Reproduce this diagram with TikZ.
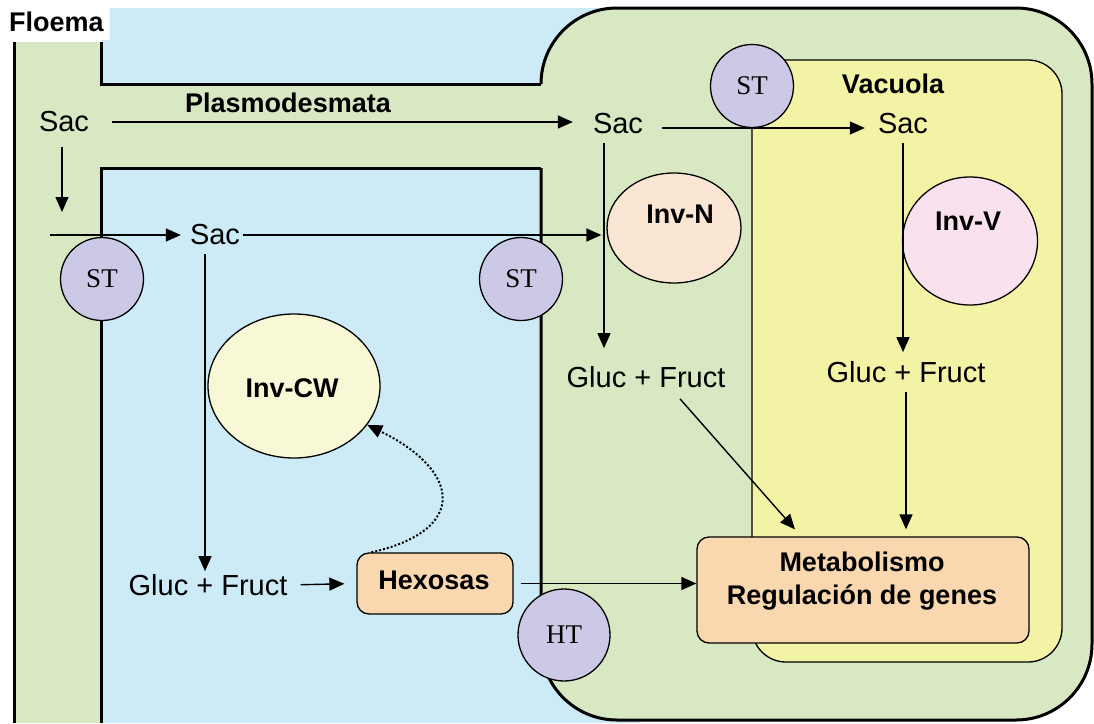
\documentclass[tikz,border=0pt]{standalone}
\usepackage{fontspec}
\setmainfont{Liberation Sans}
\newfontfamily\stfont{Liberation Serif}
\usetikzlibrary{arrows.meta,shapes.geometric}
\definecolor{bg}{HTML}{CDEBF6}
\definecolor{cellc}{HTML}{D7E8C2}
\definecolor{vac}{HTML}{F3F3A6}
\definecolor{stc}{HTML}{CCC9E6}
\definecolor{invn}{HTML}{FBE6D4}
\definecolor{invv}{HTML}{F9E2EE}
\definecolor{invcw}{HTML}{F8F8D6}
\definecolor{boxc}{HTML}{FAD8AF}
\tikzset{
  wall/.style={line width=3pt},
  thinb/.style={line width=1.3pt},
  arr/.style={-{Triangle[length=15pt,width=13pt]}, line width=1.4pt},
  txt/.style={font=\fontsize{29}{34}\selectfont, inner sep=1pt},
  btxt/.style={font=\fontsize{27}{32}\selectfont\bfseries, inner sep=1pt},
  stnode/.style={circle, draw, thinb, fill=stc, minimum size=83pt, inner sep=0pt, font=\stfont\fontsize{27}{30}\selectfont},
  enz/.style={ellipse, draw, thinb, inner sep=0pt},
  boxn/.style={rectangle, rounded corners=12pt, draw, thinb, fill=boxc, inner sep=0pt},
}
\begin{document}
\begin{tikzpicture}[x=1pt,y=-1pt]
\useasboundingbox (0,0) rectangle (1094,723);
\fill[white] (0,0) rectangle (1094,723);
% backgrounds
\fill[bg] (101,8) rectangle (640,723);
\fill[white] (0,0) rectangle (110,40);
\fill[cellc] (14,42) rectangle (101,723);
\fill[cellc] (101,84) rectangle (600,168);
\fill[cellc, rounded corners=76pt] (541,8) rectangle (1092,720);
% walls
\draw[wall] (14,42) -- (14,723);
\draw[wall] (101,42) -- (101,84) -- (541,84);
\draw[wall, rounded corners=76pt] (541,84) -- (541,8) -- (1092,8) -- (1092,720) -- (541,720) -- (541,168);
\draw[wall] (541,168) -- (101,168) -- (101,723);
% vacuole
\draw[thinb, fill=vac, rounded corners=34pt] (752,60) rectangle (1062,662);
% labels
\node[btxt, anchor=west] (floema) at (8,22) {Floema};
\node[btxt] (plasmo) at (288,103) {Plasmodesmata};
\node[btxt] (vacuola) at (893,84) {Vacuola};
% enzymes
\node[enz, fill=invn, minimum width=134pt, minimum height=110pt] (invN) at (674,228) {};
\node[btxt] (invNt) at (680,214) {Inv-N};
\node[enz, fill=invv, minimum width=135pt, minimum height=128pt] (invV) at (970,241) {};
\node[btxt] (invVt) at (968,221) {Inv-V};
\node[enz, fill=invcw, minimum width=172pt, minimum height=144pt] (invCW) at (294,386) {};
\node[btxt] (invCWt) at (292,388) {Inv-CW};
% transporters
\node[stnode] (st1) at (102,279) {ST};
\node[stnode] (st2) at (521,279) {ST};
\node[stnode, minimum size=92pt] (ht) at (564,635) {HT};
% sugars
\node[txt] (sacP) at (64,122) {Sac};
\node[txt] (sac1) at (215,235) {Sac};
\node[txt] (sac2) at (618,124) {Sac};
\node[txt] (sac3) at (903,124) {Sac};
\node[txt] (gcw) at (208,585) {Gluc + Fruct};
\node[txt] (gm) at (646,377) {Gluc + Fruct};
\node[txt] (gv) at (906,372) {Gluc + Fruct};
% boxes
\node[boxn, minimum width=156pt, minimum height=61pt] (hex) at (435,583.5) {};
\node[btxt] (hext) at (434,580) {Hexosas};
\node[boxn, minimum width=332pt, minimum height=106pt] (met) at (863,590) {};
\node[btxt, align=center, font=\fontsize{27}{33}\selectfont\bfseries] (mett) at (862,581) {Metabolismo\\Regulación de genes};
\node[stnode] (st3) at (752,86) {ST};
% free ends
\coordinate (pdown) at (62,212);
\coordinate (pin) at (50,235);
% connectors
\draw[arr, shorten <=22pt, shorten >=19pt] (sacP.east) -- (sacP.east -| sac2.west);
\draw[arr, shorten <=14pt] (sacP.south -| pdown) -- (pdown);
\draw[arr, shorten >=8pt] (pin) -- (sac1.west);
\draw[arr, shorten <=2pt, shorten >=5pt] (sac1.east) -- (sac1.east -| invN.west);
\draw[arr, shorten <=18pt, shorten >=12pt] ([yshift=-4pt]sac2.east) -- ([yshift=-4pt]sac3.west);
\draw[arr] ([xshift=-14pt,yshift=-8pt]sac2.south) -- ([xshift=-14pt,yshift=17pt]sac2.south |- gm.north);
\draw[arr] ([yshift=-8pt]sac3.south) -- ([yshift=8pt]sac3.south |- gv.north);
\draw[arr] ([xshift=-10pt,yshift=-8pt]sac1.south) -- ([xshift=-10pt,yshift=2pt]sac1.south |- gcw.north);
\draw[arr, shorten <=12pt, shorten >=12pt] (gcw.east) -- (hex.west);
\draw[arr, shorten <=7pt] (hex.east) -- (met.west |- hex.east);
\draw[arr] ([xshift=34pt,yshift=-10pt]gm.south) -- ([xshift=-68pt,yshift=7pt]met.north);
\draw[arr] ([yshift=-8pt]gv.south) -- ([yshift=7pt]gv.south |- met.north);
\draw[dotted, line width=2pt, -{Triangle[length=15pt,width=13pt]}] ([xshift=15pt]hex.north west) .. controls (470,530) and (460,470) .. (invCW.-28);
\end{tikzpicture}
\end{document}
